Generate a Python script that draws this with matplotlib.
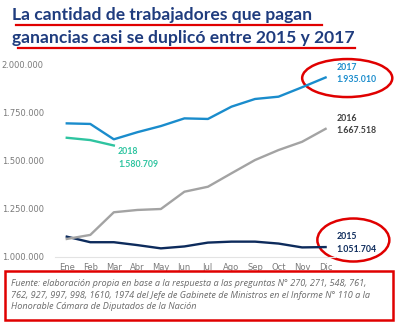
import matplotlib
matplotlib.use("Agg")
import matplotlib.pyplot as plt
from matplotlib.patches import Ellipse, Rectangle
from matplotlib.lines import Line2D

meses = ["Ene", "Feb", "Mar", "Abr", "May", "Jun", "Jul", "Ago", "Sep", "Oct", "Nov", "Dic"]

# valores
v2015 = [1106000, 1077000, 1077000, 1062000, 1045000, 1055000, 1075000, 1080000, 1080000, 1070000, 1050000, 1051704]
v2016 = [1094000, 1115000, 1233000, 1245000, 1250000, 1340000, 1366000, 1436000, 1505000, 1557000, 1600000, 1667518]
v2017 = [1696000, 1693000, 1613000, 1650000, 1682000, 1722000, 1719000, 1783000, 1823000, 1835000, 1884000, 1935010]
v2018 = [1621000, 1609000, 1580709]

c2015 = "#0d2b5c"
c2016 = "#a3a3a3"
c2017 = "#1a8ccc"
c2018 = "#2ec4a0"
rojo = "#e00000"
gris = "#7a7a7a"

W, H = 400, 323
fig = plt.figure(figsize=(W / 100, H / 100), dpi=100)
fig.patch.set_facecolor("white")

def fx(px):
    return px / W

def fy(py):
    return 1 - py / H

# titulo
tfont = dict(family="Lato", weight="bold", color="#1f3c7e", fontsize=12.6)
fig.text(fx(12), fy(20), "La cantidad de trabajadores que pagan", va="baseline", **tfont)
fig.text(fx(12), fy(43), "ganancias casi se duplicó entre 2015 y 2017", va="baseline", **tfont)
fig.add_artist(Line2D([fx(16), fx(322)], [fy(25), fy(25)], color=rojo, lw=1.6))
fig.add_artist(Line2D([fx(18), fx(355)], [fy(48), fy(48)], color=rojo, lw=1.6))

ax = fig.add_axes([fx(55), fy(257), fx(280), 192 / H])
x = list(range(len(meses)))
ax.plot(x, v2015, color=c2015, lw=1.7)
ax.plot(x, v2016, color=c2016, lw=1.7)
ax.plot(x, v2017, color=c2017, lw=1.7)
ax.plot(x[:len(v2018)], v2018, color=c2018, lw=1.7)

ax.set_xlim(-0.5, 11.4)
ax.set_ylim(1000000, 2000000)
ax.set_xticks(x)
ax.set_xticklabels(meses)
ax.set_yticks([1000000, 1250000, 1500000, 1750000, 2000000])
ax.set_yticklabels(["1.000.000", "1.250.000", "1.500.000", "1.750.000", "2.000.000"])
ax.tick_params(length=0, labelsize=6, colors=gris, pad=4)
ax.tick_params(axis="y", pad=8)
for s in ["top", "right", "left"]:
    ax.spines[s].set_visible(False)
ax.spines["bottom"].set_color("#e3e3e3")
ax.spines["bottom"].set_linewidth(0.8)

def etiqueta(xi, val, anio, color, dx, dy):
    txt = f"{anio}\n" + f"{val:,}".replace(",", ".")
    ax.annotate(txt, xy=(xi, val), xytext=(dx, dy), textcoords="offset points",
                fontsize=6.3, fontweight="bold", color=color, family="Lato",
                va="center", ha="left", linespacing=1.5, annotation_clip=False)

etiqueta(11, v2017[-1], 2017, c2017, 8, 3)
etiqueta(11, v2016[-1], 2016, "#404040", 8, 3)
etiqueta(11, v2015[-1], 2015, c2015, 8, 3)
etiqueta(2, v2018[-1], 2018, c2018, 3, -9)

ax.add_patch(Ellipse((11.92, 1932000), 3.83, 198000, fill=False, ec=rojo, lw=1.8, clip_on=False))
ax.add_patch(Ellipse((12.18, 1088500), 3.06, 224000, fill=False, ec=rojo, lw=1.8, clip_on=False))

# fuente
fig.add_artist(Rectangle((fx(5), fy(320)), fx(388), (320 - 271) / H, transform=fig.transFigure,
                         fill=False, ec=rojo, lw=1.8))
fuente = ("Fuente: elaboración propia en base a la respuesta a las preguntas N° 270, 271, 548, 761,\n"
          "762, 927, 997, 998, 1610, 1974 del Jefe de Gabinete de Ministros en el Informe N° 110 a la\n"
          "Honorable Cámara de Diputados de la Nación")
fig.text(fx(11), fy(279), fuente, va="top", ha="left", fontsize=6.6, style="italic",
         color="#6a6a6a", family="Open Sans", linespacing=1.38)

fig.savefig("out.png", dpi=100)
